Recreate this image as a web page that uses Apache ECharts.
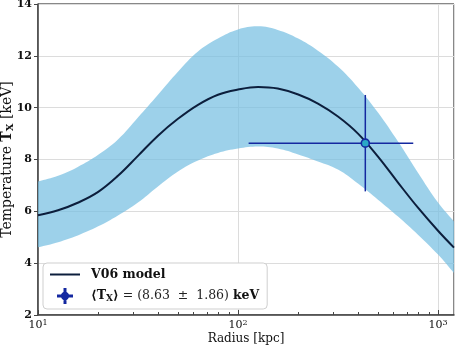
<!DOCTYPE html>
<html>
<head>
<meta charset="utf-8">
<script src="https://cdn.jsdelivr.net/npm/echarts@6/dist/echarts.min.js"></script>
<style>
    html, body { margin: 0; padding: 0; background: #fff; }
    #chart { width: 456px; height: 349px; }
</style>
</head>
<body>
<div id="chart"></div>
<script>
(function(){
    // V06 model profile (radius in kpc, T in keV)
    let radius   = [10, 12.6, 15.8, 20.0, 25.1, 31.6, 39.8, 50.1, 63.1, 79.4, 100, 126, 158, 200, 251, 316, 398, 501, 631, 794, 1000, 1202];
    let tModel   = [5.85, 6.04, 6.33, 6.75, 7.37, 8.14, 8.92, 9.57, 10.11, 10.50, 10.70, 10.80, 10.74, 10.51, 10.16, 9.66, 9.00, 8.11, 7.11, 6.14, 5.25, 4.60];
    let tUpper   = [7.15, 7.37, 7.71, 8.18, 8.77, 9.62, 10.50, 11.39, 12.17, 12.67, 13.02, 13.14, 13.00, 12.67, 12.20, 11.59, 10.78, 9.81, 8.69, 7.49, 6.34, 5.61];
    let tLower   = [4.61, 4.81, 5.07, 5.42, 5.84, 6.34, 6.96, 7.54, 7.96, 8.25, 8.42, 8.50, 8.42, 8.19, 7.92, 7.61, 7.07, 6.45, 5.80, 5.10, 4.33, 3.62];

    // measured mean temperature with its radial range
    let txRadius = 433;
    let txRange  = [113, 752];
    let txMean   = 8.63;
    let txErr    = 1.86;

    let yTicks = [2, 14, 2];          // min, max, step
    let xRange = [10, 1202];
    let xMinor = [20, 30, 40, 50, 60, 70, 80, 90, 200, 300, 400, 500, 600, 700, 800, 900];

    let serif = "'DejaVu Serif', 'Liberation Serif', serif";
    let bandColor = 'rgba(119,191,226,0.72)';
    let lineColor = '#0c1e3c';
    let barColor = '#1428a0';

    let pairs = function(ys){
        return radius.map((r, i) => [r, ys[i]]);
    };
    let bandData = radius.map((r, i) => [r, tLower[i], tUpper[i]]);

    let txLabel = '{b|⟨T}{sub|X}{b|⟩}{n| = (' + txMean.toFixed(2) + '  ±  ' + txErr.toFixed(2) + ') }{b|keV}';

    let chart = echarts.init(document.getElementById('chart'), null, {renderer: 'canvas'});

    let opts = {
        animation: false,
        grid: {
            left: 38, right: 2, top: 4, bottom: 34,
            outerBoundsMode: 'none',
            containLabel: false,
            show: true,
            borderColor: '#111',
            borderWidth: 1,
            backgroundColor: 'transparent'
        },
        legend: {
            left: 43,
            top: 263,
            orient: 'vertical',
            itemWidth: 30,
            itemHeight: 14,
            itemGap: 7,
            padding: [5, 8, 5, 7],
            backgroundColor: '#fff',
            borderColor: '#cfcfcf',
            borderWidth: 1,
            borderRadius: 4,
            data: [
                { name: 'V06 model', icon: 'path://M0 0H30V2H0Z' },
                { name: 'Tx', icon: 'path://M0 9.3H20V10.7H0Z M9.3 0H10.7V20H9.3Z M14.5 10A4.5 4.5 0 1 1 5.5 10A4.5 4.5 0 1 1 14.5 10Z' }
            ],
            formatter: function(name){
                return name === 'Tx' ? txLabel : '{b|' + name + '}';
            },
            textStyle: {
                fontFamily: serif,
                fontSize: 12.5,
                color: '#111',
                padding: [0, 0, 0, 6],
                rich: {
                    b: { fontFamily: serif, fontSize: 12.5, fontWeight: 'bold', color: '#111' },
                    n: { fontFamily: serif, fontSize: 12.5, color: '#222' },
                    sub: { fontFamily: serif, fontSize: 9, fontWeight: 'bold', color: '#111', verticalAlign: 'bottom', padding: [5, 0, 0, 0] }
                }
            }
        },
        xAxis: [
            {
                type: 'log',
                logBase: 10,
                min: xRange[0],
                max: xRange[1],
                name: 'Radius [kpc]',
                nameLocation: 'middle',
                nameGap: 18,
                nameMoveOverlap: false,
                nameTextStyle: { fontFamily: serif, fontSize: 12, color: '#111' },
                axisLine: { show: true, onZero: false, lineStyle: { color: '#444', width: 1.5 } },
                axisTick: { show: true, inside: true, length: 5, lineStyle: { color: '#444' } },
                axisLabel: {
                    showMaxLabel: false,
                    margin: 4,
                    formatter: function(v){
                        return '{b|10}{s|' + Math.round(Math.log10(v)) + '}';
                    },
                    rich: {
                        b: { fontFamily: serif, fontSize: 11, color: '#111' },
                        s: { fontFamily: serif, fontSize: 8, color: '#111', verticalAlign: 'top', padding: [0, 0, 5, 0] }
                    }
                },
                splitLine: { show: true, lineStyle: { color: '#dcdcdc', width: 1 } }
            },
            {
                type: 'log',
                logBase: 10,
                min: xRange[0],
                max: xRange[1],
                position: 'bottom',
                axisLine: { show: false },
                axisLabel: { show: false },
                splitLine: { show: false },
                axisTick: { show: true, inside: true, length: 3, customValues: xMinor, lineStyle: { color: '#444' } }
            }
        ],
        yAxis: {
            type: 'value',
            min: yTicks[0],
            max: yTicks[1],
            interval: yTicks[2],
            name: 'Temperature {b|T}{sub|X} [keV]',
            nameLocation: 'middle',
            nameGap: 23,
            nameMoveOverlap: false,
            nameTextStyle: {
                fontFamily: serif, fontSize: 14, color: '#111',
                rich: {
                    b: { fontFamily: serif, fontSize: 14, fontWeight: 'bold', color: '#111' },
                    sub: { fontFamily: serif, fontSize: 10, fontWeight: 'bold', color: '#111', verticalAlign: 'bottom', padding: [5, 0, 0, 0] }
                }
            },
            axisLine: { show: true, lineStyle: { color: '#444', width: 1.5 } },
            axisTick: { show: true, length: 4, lineStyle: { color: '#444' } },
            axisLabel: { fontFamily: serif, fontSize: 11, fontWeight: 'bold', color: '#111', margin: 6 },
            splitLine: { show: true, lineStyle: { color: '#dcdcdc', width: 1 } }
        },
        series: [
            {
                name: 'band',
                type: 'custom',
                data: bandData,
                encode: { x: 0, y: [1, 2] },
                clip: true,
                silent: true,
                renderItem: function(params, api){
                    // one polygon for the whole band, built on the first item
                    if (params.dataIndex !== 0) return;
                    let top = bandData.map(d => api.coord([d[0], d[2]]));
                    let bot = bandData.map(d => api.coord([d[0], d[1]])).reverse();
                    // corner points doubled so the smoothing keeps the ends square
                    let pts = [top[0]].concat(top, [top[top.length - 1], bot[0]], bot, [bot[bot.length - 1]]);
                    return {
                        type: 'polygon',
                        shape: { points: pts, smooth: 0.4 },
                        style: { fill: bandColor, stroke: null }
                    };
                },
                z: 1
            },
            {
                name: 'V06 model',
                type: 'line',
                data: pairs(tModel),
                smooth: 0.4,
                symbol: 'none',
                color: lineColor,
                lineStyle: { color: lineColor, width: 2 },
                z: 3
            },
            {
                name: 'Tx-err',
                type: 'custom',
                data: [[txRadius, txMean, txRange[0], txRange[1], txMean - txErr, txMean + txErr]],
                encode: { x: 0, y: 1 },
                renderItem: function(params, api){
                    let y = api.value(1);
                    let x = api.value(0);
                    let a = api.coord([api.value(2), y]);
                    let b = api.coord([api.value(3), y]);
                    let c = api.coord([x, api.value(4)]);
                    let d = api.coord([x, api.value(5)]);
                    let st = { stroke: barColor, lineWidth: 1.5 };
                    return {
                        type: 'group',
                        children: [
                            { type: 'line', shape: { x1: a[0], y1: a[1], x2: b[0], y2: b[1] }, style: st },
                            { type: 'line', shape: { x1: c[0], y1: c[1], x2: d[0], y2: d[1] }, style: st }
                        ]
                    };
                },
                silent: true,
                z: 4
            },
            {
                name: 'Tx',
                type: 'scatter',
                data: [[txRadius, txMean]],
                symbol: 'circle',
                symbolSize: 8,
                itemStyle: { color: '#2aa8c6', borderColor: barColor, borderWidth: 1.6, opacity: 1 },
                z: 5
            }
        ]
    };

    chart.setOption(opts);
})();
</script>
</body>
</html>
